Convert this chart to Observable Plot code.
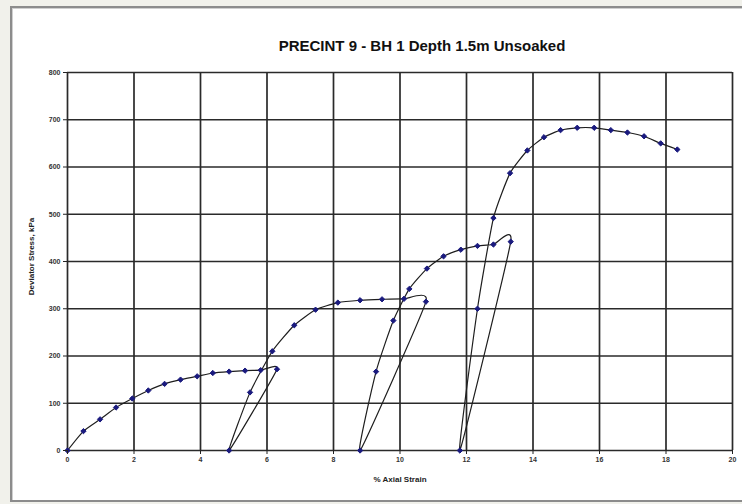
<!DOCTYPE html>
<html>
<head>
<meta charset="utf-8">
<script src="https://cdn.jsdelivr.net/npm/d3@7"></script>
<script src="https://cdn.jsdelivr.net/npm/@observablehq/plot@0.6"></script>
<style>
  html, body { margin: 0; padding: 0; background: #f1f1eb; }
  #wrap { position: relative; width: 742px; height: 504px; overflow: hidden; }
  #panel { position: absolute; left: 10px; top: 6px; width: 760px; height: 496px;
           background: #fff; border: 2px solid #8c8c8c; box-sizing: border-box;
           box-shadow: inset 1px 1px 0 #cfcfcf; }
  #chart { position: absolute; left: 0; top: 0; }
  #chart svg text { font-weight: bold; }
</style>
</head>
<body>
<div id="wrap"><div id="panel"></div><div id="chart"></div></div>
<script>
const title = "PRECINT 9 - BH 1 Depth 1.5m Unsoaked";
const xLabel = "% Axial Strain";
const yLabel = "Deviator Stress, kPa";
const xTicks = [0, 2, 4, 6, 8, 10, 12, 14, 16, 18, 20];
const yTicks = [0, 100, 200, 300, 400, 500, 600, 700, 800];

// Points in recorded order (loading, unload, reload ...)
const strain = [0, 0.48, 0.98, 1.46, 1.95, 2.43, 2.92, 3.40, 3.90, 4.37, 4.86, 5.34, 5.81, 6.30,
  4.86, 5.49, 6.16, 6.82, 7.46, 8.13, 8.80, 9.46, 10.12, 10.78,
  8.80, 9.28, 9.80, 10.28, 10.81, 11.31, 11.83, 12.33, 12.81, 13.33,
  11.80, 12.33, 12.81, 13.31, 13.83, 14.33, 14.83, 15.33, 15.84, 16.34, 16.84, 17.34, 17.84, 18.34];
const stress = [0, 41, 66, 91, 110, 127, 141, 150, 157, 164, 167, 169, 170, 172,
  0, 123, 210, 265, 298, 313, 318, 320, 321, 315,
  0, 167, 275, 342, 385, 411, 425, 433, 436, 442,
  0, 300, 492, 587, 635, 663, 678, 683, 683, 678, 673, 665, 650, 637];

const data = strain.map((s, i) => ({strain: s, stress: stress[i]}));

const chart = Plot.plot({
  width: 742,
  height: 504,
  marginLeft: 67,
  marginRight: 10,
  marginTop: 72,
  marginBottom: 54,
  style: {background: "transparent", fontFamily: "'Liberation Sans', Arial, sans-serif", fontSize: "7px", color: "#222"},
  x: {domain: [0, 20]},
  y: {domain: [0, 800]},
  marks: [
    Plot.gridX(xTicks, {stroke: "#2a2a2a", strokeOpacity: 1, strokeWidth: 1.7}),
    Plot.gridY(yTicks, {stroke: "#2a2a2a", strokeOpacity: 1, strokeWidth: 1.7}),
    Plot.line(data, {x: "strain", y: "stress", curve: "cardinal", tension: 0.5, stroke: "#1e1e1e", strokeWidth: 1.2}),
    Plot.dot(data, {x: "strain", y: "stress", symbol: "diamond2", r: 2.4, fill: "#1a1a7e", stroke: "#1a1a7e", strokeWidth: 1}),
    Plot.axisX(xTicks, {label: null, tickSize: 4, tickPadding: 3, stroke: "#222", fill: "#333"}),
    Plot.axisY(yTicks, {label: null, tickSize: 4, tickPadding: 3, stroke: "#222", fill: "#333"}),
    Plot.text([xLabel], {frameAnchor: "bottom", dy: 31, fontSize: 8, fill: "#222"}),
    Plot.text([yLabel], {frameAnchor: "left", textAnchor: "middle", dx: -36, dy: -5, rotate: -90, fontSize: 8, fill: "#222"}),
    Plot.text([title], {frameAnchor: "top", dx: 22, dy: -32, fontSize: 15, fill: "#111"})
  ]
});
document.getElementById("chart").appendChild(chart);
</script>
</body>
</html>
